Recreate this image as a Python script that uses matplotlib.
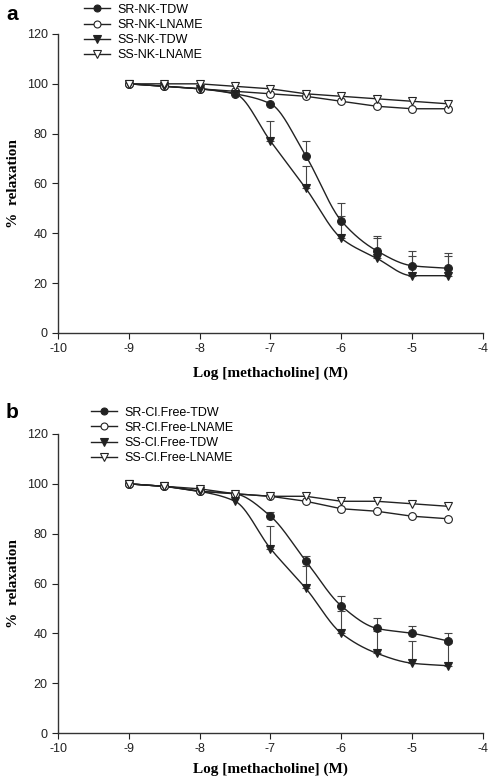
import numpy as np
import matplotlib
matplotlib.use("Agg")
import matplotlib.pyplot as plt

conc = [-9, -8.5, -8, -7.5, -7, -6.5, -6, -5.5, -5, -4.5]

# Panel a
a_labels = ["SR-NK-TDW", "SR-NK-LNAME", "SS-NK-TDW", "SS-NK-LNAME"]
a_sr_tdw = [100, 99, 98, 96, 92, 71, 45, 33, 27, 26]
a_sr_tdw_err = [0, 0, 0, 0, 0, 6, 7, 6, 6, 6]
a_sr_lname = [100, 99, 98, 97, 96, 95, 93, 91, 90, 90]
a_ss_tdw = [100, 99, 98, 96, 77, 58, 38, 30, 23, 23]
a_ss_tdw_err = [0, 0, 0, 0, 8, 9, 9, 8, 8, 8]
a_ss_lname = [100, 100, 100, 99, 98, 96, 95, 94, 93, 92]

# Panel b
b_labels = ["SR-Cl.Free-TDW", "SR-Cl.Free-LNAME", "SS-Cl.Free-TDW", "SS-Cl.Free-LNAME"]
b_sr_tdw = [100, 99, 97, 96, 87, 69, 51, 42, 40, 37]
b_sr_tdw_err = [0, 0, 0, 0, 1.5, 2, 4, 4, 3, 3]
b_sr_lname = [100, 99, 97, 96, 95, 93, 90, 89, 87, 86]
b_ss_tdw = [100, 99, 97, 93, 74, 58, 40, 32, 28, 27]
b_ss_tdw_err = [0, 0, 0, 0, 9, 9, 9, 9, 9, 9]
b_ss_lname = [100, 99, 98, 96, 95, 95, 93, 93, 92, 91]

xticks = [-10, -9, -8, -7, -6, -5, -4]
yticks = [0, 20, 40, 60, 80, 100, 120]


def pchip(x, y, xs):
    x = np.asarray(x, float); y = np.asarray(y, float)
    h = np.diff(x); d = np.diff(y) / h
    m = np.zeros_like(y)
    for k in range(1, len(x) - 1):
        if d[k - 1] * d[k] > 0:
            w1 = 2 * h[k] + h[k - 1]; w2 = h[k] + 2 * h[k - 1]
            m[k] = (w1 + w2) / (w1 / d[k - 1] + w2 / d[k])
    m[0] = d[0]; m[-1] = d[-1]
    idx = np.clip(np.searchsorted(x, xs) - 1, 0, len(x) - 2)
    t = (xs - x[idx]) / h[idx]
    h00 = 2 * t**3 - 3 * t**2 + 1; h10 = t**3 - 2 * t**2 + t
    h01 = -2 * t**3 + 3 * t**2; h11 = t**3 - t**2
    return h00 * y[idx] + h10 * h[idx] * m[idx] + h01 * y[idx + 1] + h11 * h[idx] * m[idx + 1]


plt.rcParams["font.family"] = ["Liberation Sans", "DejaVu Sans"]
plt.rcParams["axes.unicode_minus"] = False
fig = plt.figure(figsize=(4.89, 7.78), dpi=100)
W, H = 489, 778
axa = fig.add_axes([58 / W, 1 - 333 / H, 425 / W, 299 / H])
axb = fig.add_axes([58 / W, 1 - 733 / H, 425 / W, 299 / H])

col = "#222222"


def draw(ax, labels, sr_tdw, sr_err, sr_ln, ss_tdw, ss_err, ss_ln, xlab_y):
    xs = np.linspace(conc[0], conc[-1], 300)
    series = [
        (sr_tdw, sr_err, "o", col, True),
        (sr_ln, None, "o", "white", False),
        (ss_tdw, ss_err, "v", col, True),
        (ss_ln, None, "v", "white", False),
    ]
    handles = []
    for i, (vals, err, mk, fc, smooth) in enumerate(series):
        ms = 5.6 if mk == "o" else 6.2
        if err is not None:
            e = np.array(err, float)
            xe = [c for c, v in zip(conc, e) if v > 0]
            ye = [y for y, v in zip(vals, e) if v > 0]
            ee = [v for v in e if v > 0]
            ax.errorbar(xe, ye, yerr=[np.zeros(len(ee)), ee], fmt="none",
                        ecolor="#444444", elinewidth=0.8, capsize=3, capthick=0.8, zorder=2)
        if smooth:
            ax.plot(xs, pchip(conc, vals, xs), color=col, lw=1.0, zorder=3)
        else:
            ax.plot(conc, vals, color=col, lw=1.0, zorder=3)
        ax.plot(conc, vals, linestyle="none", marker=mk, ms=ms,
                mfc=fc, mec=col, mew=0.8, zorder=4)
        h, = ax.plot([], [], color=col, lw=1.0, marker=mk, ms=ms - 0.6,
                     mfc=fc, mec=col, mew=0.8, label=labels[i])
        handles.append(h)
    ax.set_xlim(-10, -4)
    ax.set_ylim(0, 120)
    ax.set_xticks(xticks)
    ax.set_yticks(yticks)
    ax.tick_params(direction="out", length=4, width=0.8, labelsize=9, colors="#222222")
    for s in ["top", "right"]:
        ax.spines[s].set_visible(False)
    for s in ["left", "bottom"]:
        ax.spines[s].set_linewidth(1.0)
        ax.spines[s].set_color("#333333")
    ax.set_xlabel("Log [methacholine] (M)", family=["Liberation Serif", "DejaVu Serif"],
                  fontweight="bold", fontsize=11, va="center")
    ax.xaxis.set_label_coords(0.5, xlab_y)
    ax.set_ylabel("%  relaxation", family=["Liberation Serif", "DejaVu Serif"],
                  fontweight="bold", fontsize=11, va="center")
    ax.yaxis.set_label_coords(-44 / 425, 0.5)
    return handles


ha = draw(axa, a_labels, a_sr_tdw, a_sr_tdw_err, a_sr_lname, a_ss_tdw, a_ss_tdw_err, a_ss_lname,
          (333 - 373) / 299)
hb = draw(axb, b_labels, b_sr_tdw, b_sr_tdw_err, b_sr_lname, b_ss_tdw, b_ss_tdw_err, b_ss_lname,
          (733 - 769) / 299)

fig.legend(handles=ha, loc="upper left", bbox_to_anchor=(75 / W, 1 + 5 / H), frameon=False,
           fontsize=9, handlelength=2.1, handletextpad=0.6, labelspacing=0.25, borderpad=0.2)
fig.legend(handles=hb, loc="upper left", bbox_to_anchor=(82 / W, 1 - 398 / H), frameon=False,
           fontsize=9, handlelength=2.1, handletextpad=0.6, labelspacing=0.25, borderpad=0.2)

fig.text(6 / W, 1 - 15 / H, "a", fontsize=15, fontweight="bold", va="center", ha="left")
fig.text(6 / W, 1 - 413 / H, "b", fontsize=15, fontweight="bold", va="center", ha="left")

fig.savefig("out.png", dpi=100)
